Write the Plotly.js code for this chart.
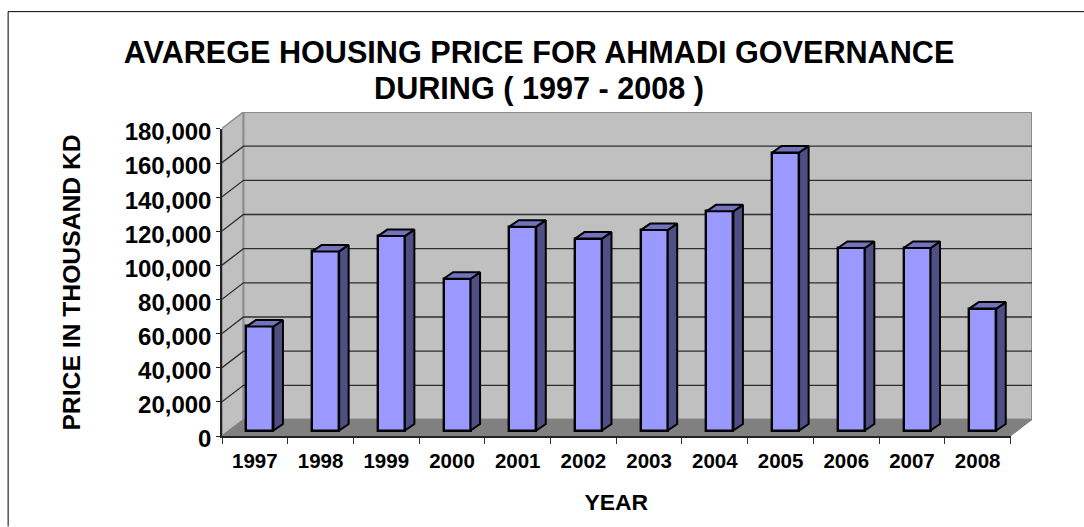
<!DOCTYPE html>
<html>
<head>
<meta charset="utf-8">
<script src="https://cdn.plot.ly/plotly-3.0.1.min.js"></script>
<style>html,body{margin:0;padding:0;background:#fff}#chart{width:1084px;height:527px}</style>
</head>
<body>
<div id="chart"></div>
<script>
var years = ['1997','1998','1999','2000','2001','2002','2003','2004','2005','2006','2007','2008'];
var prices = [61000,105000,114000,89000,119500,112500,117500,128500,163000,107000,107000,71500];
var yTicks = [0,20000,40000,60000,80000,100000,120000,140000,160000,180000];
var titleLines = ['AVAREGE HOUSING PRICE FOR AHMADI GOVERNANCE', 'DURING ( 1997 - 2008 )'];
var xTitle = 'YEAR';
var yTitle = 'PRICE IN THOUSAND KD';

// projection of the 3-D look, in axis units
var W = 1084, H = 527;
var mL = 221.5, mR = 52, mT = 112, mB = 90.5;
var frontW = 789, frontH = 307.5, depthX = 21.5, depthY = 16.5;
var n = years.length, yMax = yTicks[yTicks.length - 1];
var pxX = frontW / n, pxY = frontH / yMax;
var wallDx = depthX / pxX, wallDy = depthY / pxY;
var barShift = 5.1 / pxX, barBase = 5.5 / pxY;
var barW = 27 / pxX, barDx = 9.5 / pxX, barDy = 6.5 / pxY;

function poly(pts) { return {x: pts.map(function (p) { return p[0]; }), y: pts.map(function (p) { return p[1]; })}; }
function base(o) { o.type = 'scatter'; o.mode = 'lines'; o.cliponaxis = false; o.hoverinfo = 'skip'; o.showlegend = false; return o; }

var sideWall = poly([[0,0],[0,yMax],[wallDx,yMax+wallDy],[wallDx,wallDy],[0,0]]);
var backWall = poly([[wallDx,wallDy],[wallDx,yMax+wallDy],[n+wallDx,yMax+wallDy],[n+wallDx,wallDy],[wallDx,wallDy]]);
var floorPl = poly([[0,0],[n,0],[n+wallDx,wallDy],[wallDx,wallDy],[0,0]]);

var gridX = [], gridY = [];
yTicks.slice(1, -1).forEach(function (v) {
  gridX.push(0, wallDx, n + wallDx, null);
  gridY.push(v, v + wallDy, v + wallDy, null);
});

var sideX = [], sideY = [], topX = [], topY = [];
var centers = prices.map(function (v, i) { return i + 0.5 + barShift; });
prices.forEach(function (v, i) {
  var l = centers[i] - barW / 2, r = centers[i] + barW / 2, t = v + barBase;
  sideX.push(r, r + barDx, r + barDx, r, r, null);
  sideY.push(barBase, barBase + barDy, t + barDy, t, barBase, null);
  topX.push(l, l + barDx, r + barDx, r, l, null);
  topY.push(t, t + barDy, t + barDy, t, t, null);
});

var traces = [
  base({x: sideWall.x, y: sideWall.y, fill: 'toself', fillcolor: '#c0c0c0', line: {color: '#8c8c8c', width: 1.5}}),
  base({x: backWall.x, y: backWall.y, fill: 'toself', fillcolor: '#c0c0c0', line: {color: '#8c8c8c', width: 2}}),
  base({x: floorPl.x, y: floorPl.y, fill: 'toself', fillcolor: '#808080', line: {color: '#808080', width: 1}}),
  base({x: gridX, y: gridY, line: {color: '#2e2e2e', width: 1.3}}),
  {type: 'bar', x: centers, y: prices, base: prices.map(function () { return barBase; }), width: barW,
   xaxis: 'x2', yaxis: 'y2', showlegend: false, hoverinfo: 'y',
   marker: {color: '#9999ff', line: {color: '#000000', width: 2.4}}},
  base({x: sideX, y: sideY, xaxis: 'x2', yaxis: 'y2', fill: 'toself', fillcolor: '#4f4f85', line: {color: '#000000', width: 2}}),
  base({x: topX, y: topY, xaxis: 'x2', yaxis: 'y2', fill: 'toself', fillcolor: '#7272bf', line: {color: '#000000', width: 2}})
];

var fontFam = '"Liberation Sans", Arial, sans-serif';
var areaW = W - mL - mR, areaH = H - mT - mB;
var frameX = (7.5 - mL) / areaW, frameY = (H - mB - 11.5) / areaH;
var titleSpan = function (s) { return '<span style="font-size:30.6px"><b>' + s + '</b></span>'; };
var layout = {
  width: W, height: H,
  margin: {l: mL, r: mR, t: mT, b: mB, pad: 0},
  paper_bgcolor: '#ffffff', plot_bgcolor: 'rgba(0,0,0,0)',
  font: {family: fontFam, color: '#000000'},
  showlegend: false,
  title: {text: titleLines.map(titleSpan).join('<br>'),
          font: {family: fontFam, size: 27.7, color: '#000000'},
          x: 539 / W, xref: 'container', xanchor: 'center', y: 1 - 62.5 / H, yref: 'container', yanchor: 'top'},
  xaxis: {range: [0, n + wallDx], domain: [0, 1], visible: false, fixedrange: true},
  yaxis: {range: [0, yMax + wallDy], domain: [0, 1], visible: false, fixedrange: true},
  xaxis2: {
    range: [0, n], domain: [0, frontW / areaW], anchor: 'y2', tickmode: 'array',
    tickvals: years.map(function (y, i) { return i + 0.5; }), ticktext: years,
    ticks: '', showgrid: false, zeroline: false, ticklabelstandoff: 6,
    showline: true, linecolor: '#222222', linewidth: 1.5,
    tickfont: {family: fontFam, size: 20.5, color: '#000000', weight: 'bold'},
    minor: {tickmode: 'array', tickvals: years.map(function (y, i) { return i; }).concat([n]),
            ticks: 'outside', ticklen: 6, tickwidth: 1.2, tickcolor: '#333333', showgrid: false},
    title: {text: '<b>' + xTitle + '</b>', font: {family: fontFam, size: 22.9, color: '#000000'}, standoff: 23},
    automargin: false
  },
  yaxis2: {
    range: [0, yMax], domain: [0, frontH / areaH], anchor: 'x2', tickmode: 'array', tickvals: yTicks, tickformat: ',d',
    ticks: 'outside', ticklen: 4, tickwidth: 1.2, tickcolor: '#222222',
    showgrid: false, zeroline: false, ticklabelshift: 3,
    showline: true, linecolor: '#222222', linewidth: 1.5,
    tickfont: {family: fontFam, size: 24, color: '#000000', weight: 'bold'},
    title: {text: '<b>' + yTitle + '</b>', font: {family: fontFam, size: 24.7, color: '#000000'}, standoff: 37},
    automargin: false
  },
  bargap: 0,
  shapes: [
    {type: 'line', xref: 'paper', yref: 'paper', layer: 'below',
     x0: frameX, x1: frameX, y0: frameY, y1: -mB / areaH,
     line: {color: '#000000', width: 1}},
    {type: 'line', xref: 'paper', yref: 'paper', layer: 'below',
     x0: frameX, x1: (W - mL) / areaW, y0: frameY, y1: frameY,
     line: {color: '#000000', width: 1}}
  ]
};
Plotly.newPlot('chart', traces, layout, {displayModeBar: false, responsive: false});
</script>
</body>
</html>
